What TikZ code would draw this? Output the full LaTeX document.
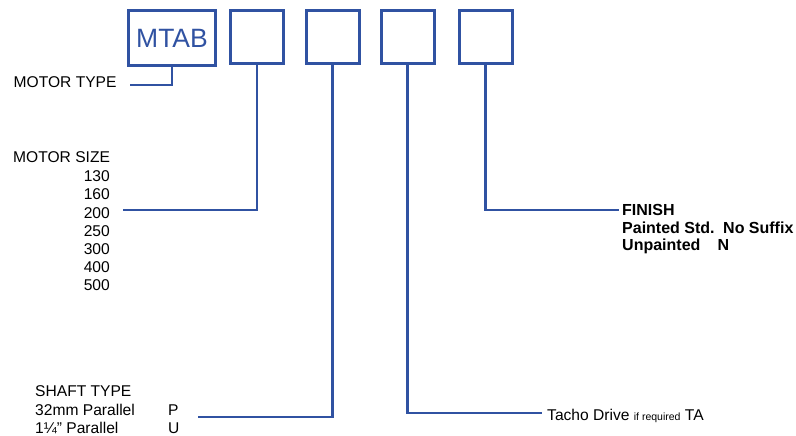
\documentclass[tikz,border=0pt]{standalone}
\usepackage{fontspec}
\setmainfont{Liberation Sans}
\definecolor{codeblue}{HTML}{3052A2}
\tikzset{
	codebox/.style={draw=codeblue, line width=3pt, minimum width=53pt, minimum height=53pt, inner sep=0pt},
	stem/.style={draw=codeblue, line width=2.5pt},
	txt/.style={inner sep=0pt, font=\fontsize{15.6}{18}\selectfont},
	boldtxt/.style={inner sep=0pt, font=\fontsize{16}{18}\selectfont\bfseries},
}

\begin{document}
\begin{tikzpicture}[x=1pt, y=-1pt]
		%%%%% START %%%%%
		\useasboundingbox (0, 0) rectangle (796, 436);
		
		% code boxes
		\node[codebox, minimum width=87pt, minimum height=55pt, text=codeblue, font=\fontsize{26.5}{26}\selectfont] (mtabbox) at (172, 38.5) {MTAB};
		\node[codebox] (sizebox) at (257, 37.5) {};
		\node[codebox] (shaftbox) at (332.5, 37.5) {};
		\node[codebox] (tachobox) at (407.5, 37.5) {};
		\node[codebox] (finishbox) at (485.5, 37.5) {};
		
		% motor type
		\node[txt, anchor=base west] (motortype) at (13.5, 88) {MOTOR TYPE};
		\coordinate (typeend) at (130, 85);
		\draw[stem] (mtabbox.south) |- (typeend);
		
		% motor size
		\node[txt, anchor=base west] (motorsize) at (13, 162.7) {MOTOR SIZE};
		\foreach \s [count=\i] in {130,160,200,250,300,400,500}
			\node[txt, anchor=base east] (size\s) at (110, {163.5+18.2*\i}) {\s};
		\coordinate (sizeend) at (123, 210);
		\draw[stem] (sizebox.south) |- (sizeend);
		
		% shaft type
		\node[txt, anchor=base west] (shafttype) at (35, 396.5) {SHAFT TYPE};
		\node[txt, anchor=base west] (shaftmm) at (35, 415.5) {32mm Parallel};
		\node[txt, anchor=base west] (shaftP) at (168, 415.5) {P};
		\node[txt, anchor=base west] (shaftin) at (35, 433.5) {1¼” Parallel};
		\node[txt, anchor=base west] (shaftU) at (168, 433.5) {U};
		\coordinate (shaftend) at (198, 417);
		\draw[stem] (shaftbox.south) |- (shaftend);
		
		% tacho
		\node[txt, anchor=base west] (tachodrive) at (547, 420.5) {Tacho Drive {\fontsize{10.5}{12}\selectfont if required} TA};
		\coordinate (tachoend) at (542, 413);
		\draw[stem] (tachobox.south) |- (tachoend);
		
		% finish
		\node[boldtxt, anchor=base west] (finishhead) at (622, 215) {FINISH};
		\node[boldtxt, anchor=base west] (painted) at (622, 233.5) {Painted Std.};
		\node[boldtxt, anchor=base west] (nosuffix) at (723, 233.5) {No Suffix};
		\node[boldtxt, anchor=base west] (unpainted) at (622, 250.5) {Unpainted};
		\node[boldtxt, anchor=base west] (suffixN) at (717.5, 250.5) {N};
		\coordinate (finishend) at (619, 210);
		\draw[stem] (finishbox.south) |- (finishend);
		
		%%%%% END %%%%%
\end{tikzpicture}
\end{document}
